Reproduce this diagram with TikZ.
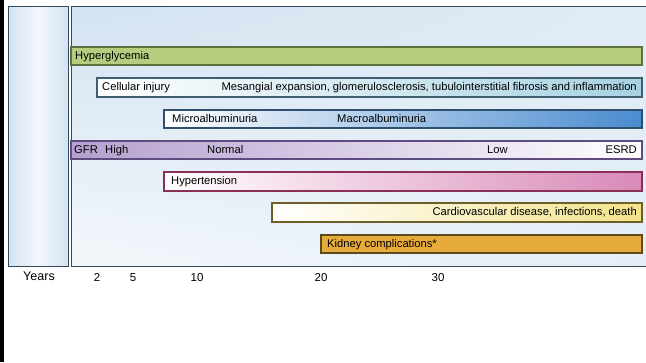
\documentclass[tikz,border=0pt]{standalone}
\usepackage{fontspec}
\setmainfont{Liberation Sans}
\usetikzlibrary{shadings}
\definecolor{frame}{HTML}{2F4A5E}
\definecolor{bgA}{HTML}{D3E3F1}
\definecolor{bgB}{HTML}{F3F7FB}
\definecolor{hypg}{HTML}{B6CD80}\definecolor{hypgD}{HTML}{5F7040}
\definecolor{cellR}{HTML}{A6D2E2}\definecolor{cellD}{HTML}{3F5F6F}
\definecolor{albR}{HTML}{4A8BCF}\definecolor{albD}{HTML}{2E4F6E}
\definecolor{gfrL}{HTML}{B5A0CF}\definecolor{gfrD}{HTML}{5E4C80}
\definecolor{htnR}{HTML}{D98AB8}\definecolor{htnD}{HTML}{8A2F55}
\definecolor{cvdR}{HTML}{F2E38A}\definecolor{cvdD}{HTML}{6D5E2A}
\definecolor{kid}{HTML}{E7AB3B}\definecolor{kidD}{HTML}{5D4A1C}
\tikzset{
  bar/.style={draw, line width=1.2pt, inner sep=0pt},
  lab/.style={font=\fontsize{11.2}{13}\selectfont, inner sep=0pt, text=black,
    text height=8.1pt, text depth=1.4pt},
  tick/.style={font=\fontsize{11.5}{13}\selectfont, inner sep=0pt, text=black,
    text height=8.3pt, text depth=0pt},
}
\begin{document}
\begin{tikzpicture}[x=1pt,y=-1pt]
\useasboundingbox (0,0) rectangle (646,362);
\fill[white] (0,0) rectangle (646,362);
\fill[black] (0,0) rectangle (3.5,362);
% panels
\shade[left color=bgA, right color=bgA, middle color=bgB] (8,6) rectangle (68,266);
\draw[frame, line width=1pt] (8,6) rectangle (68,266);
\shade[upper left=bgA, upper right=bgA!70!white, lower left=bgB, lower right=bgA!60!white] (71,6) rectangle (646,266);
\draw[frame, line width=1pt] (646,6) -- (71,6) -- (71,266) -- (646,266);
% bars
\draw[bar, hypgD, fill=hypg] (71,47) rectangle (642,65);
\node[lab, anchor=west] (hyp) at (75,56.5) {Hyperglycemia};

\draw[bar, cellD, left color=white, right color=cellR] (97,78) rectangle (642,97);
\node[lab, anchor=west] (cell) at (102,87.5) {Cellular injury};
\node[lab, anchor=east] (mes) at (637,87.5) {Mesangial expansion, glomerulosclerosis, tubulointerstitial fibrosis and inflammation};

\draw[bar, albD, left color=white, right color=albR] (164,110) rectangle (642,128);
\node[lab, anchor=west] (mic) at (172,119) {Microalbuminuria};
\node[lab, anchor=west] (mac) at (337,119) {Macroalbuminuria};

\draw[bar, gfrD, left color=gfrL, right color=white] (71,141) rectangle (642,159);
\node[lab, anchor=west] (gfr) at (74,150) {GFR};
\node[lab, anchor=west] (high) at (105,150) {High};
\node[lab, anchor=west] (norm) at (207,150) {Normal};
\node[lab, anchor=west] (low) at (487,150) {Low};
\node[lab, anchor=east] (esrd) at (637,150) {ESRD};

\draw[bar, htnD, left color=white, right color=htnR] (164,172) rectangle (642,191);
\node[lab, anchor=west] (htn) at (171,181.5) {Hypertension};

\draw[bar, cvdD, left color=white, right color=cvdR] (272,203) rectangle (642,222);
\node[lab, anchor=east] (cvd) at (637,212.5) {Cardiovascular disease, infections, death};

\draw[bar, kidD, fill=kid] (321,235) rectangle (642,253);
\node[lab, anchor=west] (kd) at (327,244) {Kidney complications*};

% axis labels
\node[tick, font=\fontsize{12.5}{14}\selectfont, text height=9pt] (years) at (39,276) {Years};
\node[tick] (t2) at (97,277) {2};
\node[tick] (t5) at (133,277) {5};
\node[tick] (t10) at (197,277) {10};
\node[tick] (t20) at (321,277) {20};
\node[tick] (t30) at (438,277) {30};
\end{tikzpicture}
\end{document}
